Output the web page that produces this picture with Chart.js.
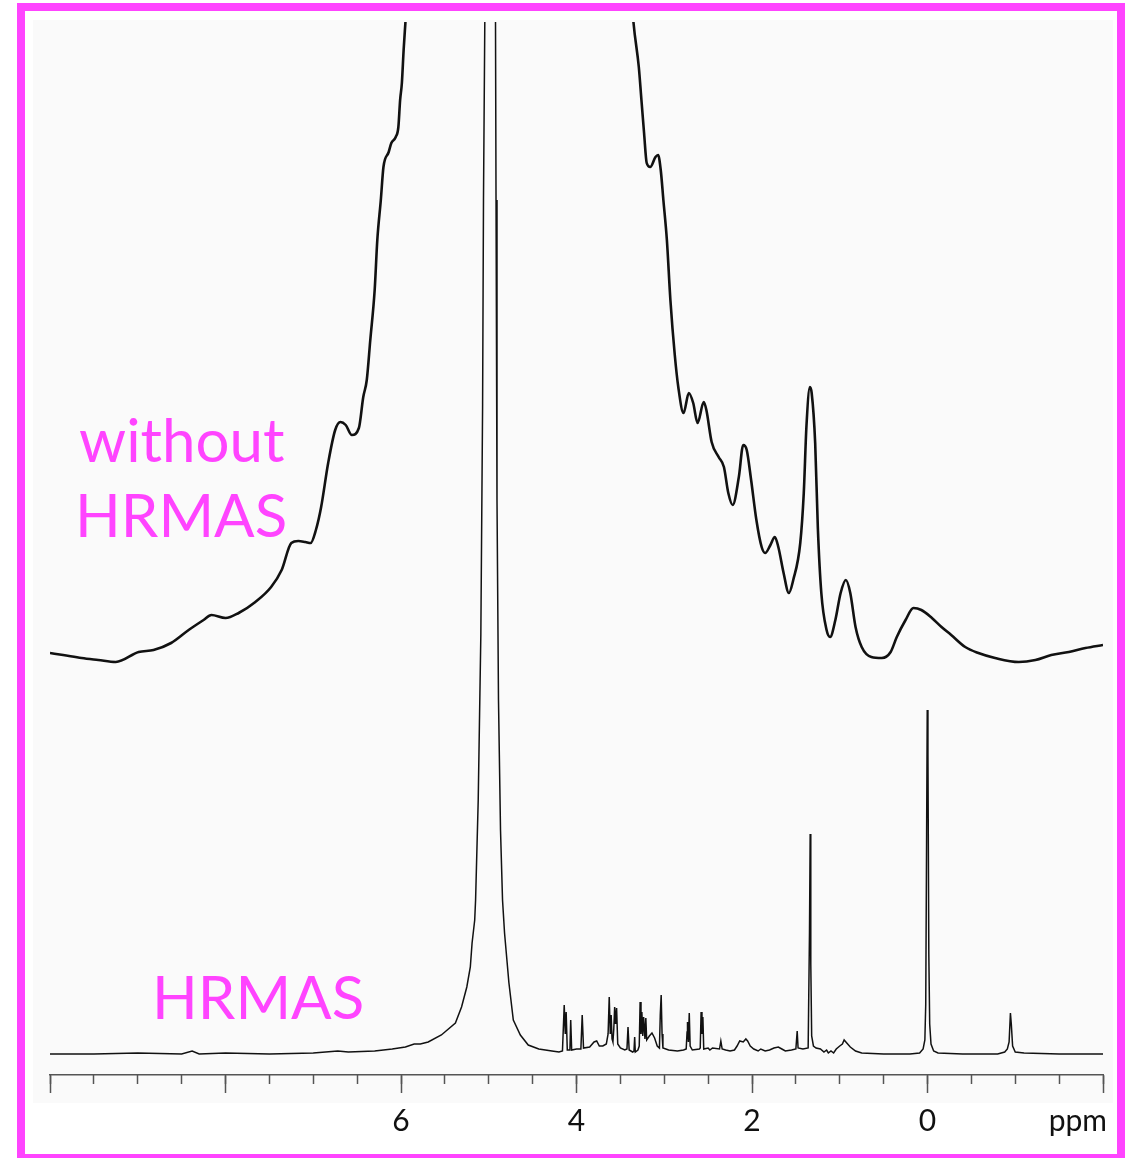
<!DOCTYPE html>
<html>
<head>
<meta charset="utf-8">
<title>1H NMR spectra: without HRMAS / HRMAS</title>
<script src="https://cdn.jsdelivr.net/npm/chart.js@4.4.1/dist/chart.umd.min.js"></script>
<style>
  html, body { margin: 0; padding: 0; width: 1135px; height: 1158px; overflow: hidden; background: #ffffff; }
  #frame { position: absolute; left: 17px; top: 3px; width: 1108px; height: 1159px; box-sizing: border-box; border: 8px solid #ff44ff; }
  #panel { position: absolute; left: 33px; top: 20px; width: 1080px; height: 1083px; background: #fafafa; }
  #chart { position: absolute; left: 0; top: 0; }
</style>
</head>
<body>
<div id="frame"></div>
<div id="panel"></div>
<canvas id="chart" width="1135" height="1158"></canvas>
<script>
// Static spectrum (no spinning): chemical shift (ppm) and intensity above its own baseline
const broadPpm = [
  10.00, 9.85, 9.64, 9.45, 9.25, 8.99, 8.82, 8.62, 8.42, 8.25,
  8.16, 8.00, 7.85, 7.66, 7.48, 7.36, 7.25, 7.17, 7.09, 7.03,
  6.97, 6.91, 6.83, 6.75, 6.69, 6.63, 6.56, 6.48, 6.43, 6.39,
  6.35, 6.30, 6.27, 6.23, 6.20, 6.14, 6.11, 6.06, 6.03, 6.01,
  5.99, 5.97, 5.95, 5.91, 5.85, 5.60, 5.20, 4.80, 4.40, 4.00,
  3.60, 3.45, 3.35, 3.29, 3.26, 3.23, 3.20, 3.16, 3.10, 3.07,
  3.04, 3.01, 2.97, 2.93, 2.88, 2.84, 2.78, 2.72, 2.67, 2.62,
  2.55, 2.52, 2.46, 2.38, 2.32, 2.27, 2.22, 2.15, 2.10, 2.06,
  2.01, 1.95, 1.89, 1.85, 1.79, 1.74, 1.70, 1.64, 1.58, 1.53,
  1.45, 1.41, 1.38, 1.34, 1.32, 1.28, 1.25, 1.21, 1.15, 1.11,
  1.05, 0.99, 0.93, 0.88, 0.82, 0.75, 0.64, 0.52, 0.42, 0.35,
  0.25, 0.16, 0.07, -0.05, -0.16, -0.27, -0.43, -0.58, -0.77, -1.04,
  -1.23, -1.41, -1.61, -1.80, -2.00
];
const broadIntensity = [
  1, -1, -4, -6, -8, 2, 4, 11, 24, 34,
  39, 36, 41, 52, 67, 84, 111, 113, 112, 111,
  124, 147, 191, 224, 232, 229, 219, 226, 257, 274,
  314, 364, 414, 454, 487, 502, 511, 517, 527, 554,
  571, 604, 631, 684, 800, 1200, 1800, 2400, 1900, 1300,
  900, 750, 631, 587, 554, 521, 491, 487, 497, 499,
  484, 454, 414, 354, 299, 267, 241, 261, 251, 231,
  252, 244, 212, 197, 187, 161, 149, 177, 209, 204,
  174, 134, 107, 101, 109, 117, 107, 81, 61, 74,
  111, 161, 227, 267, 261, 211, 127, 61, 24, 17,
  34, 61, 74, 61, 27, 7, -3, -4, 2, 17,
  34, 46, 44, 36, 27, 19, 7, 1, -4, -8,
  -6, -1, 2, 6, 9
];

// HRMAS spectrum: chemical shift (ppm) and intensity
const hrmasPpm = [
  10.00, 9.50, 9.00, 8.50, 8.38, 8.30, 8.00, 7.50, 7.00, 6.72,
  6.60, 6.30, 6.10, 5.95, 5.85, 5.78, 5.69, 5.54, 5.38, 5.31,
  5.25, 5.21, 5.19, 5.16, 5.15, 5.12, 5.09, 5.07, 5.06, 5.045,
  4.985, 4.923, 4.917, 4.906, 4.889, 4.866, 4.843, 4.82, 4.77, 4.72,
  4.64, 4.55, 4.43, 4.28, 4.20, 4.16, 4.140, 4.128, 4.118, 4.105,
  4.075, 4.066, 4.055, 4.00, 3.95, 3.935, 3.92, 3.85, 3.80, 3.77,
  3.74, 3.70, 3.66, 3.64, 3.627, 3.615, 3.605, 3.595, 3.585, 3.575,
  3.565, 3.555, 3.543, 3.53, 3.50, 3.45, 3.425, 3.413, 3.40, 3.36,
  3.345, 3.337, 3.33, 3.30, 3.285, 3.275, 3.265, 3.255, 3.245, 3.235,
  3.22, 3.21, 3.20, 3.17, 3.14, 3.11, 3.08, 3.055, 3.045, 3.035,
  3.025, 3.015, 2.95, 2.85, 2.78, 2.75, 2.74, 2.735, 2.725, 2.715,
  2.705, 2.68, 2.60, 2.59, 2.58, 2.57, 2.56, 2.55, 2.50, 2.48,
  2.45, 2.37, 2.355, 2.34, 2.30, 2.25, 2.20, 2.17, 2.14, 2.10,
  2.07, 2.05, 2.02, 1.98, 1.93, 1.90, 1.85, 1.80, 1.75, 1.70,
  1.66, 1.62, 1.55, 1.50, 1.485, 1.475, 1.42, 1.36, 1.345, 1.337,
  1.33, 1.32, 1.30, 1.27, 1.22, 1.18, 1.15, 1.13, 1.10, 1.07,
  1.04, 1.00, 0.97, 0.95, 0.92, 0.88, 0.82, 0.75, 0.50, 0.20,
  0.09, 0.05, 0.03, 0.02, 0.01, 0.003, -0.005, -0.015, -0.025, -0.04,
  -0.07, -0.12, -0.40, -0.80, -0.88, -0.91, -0.93, -0.945, -0.955, -0.97,
  -1.00, -1.10, -1.50, -2.00
];
const hrmasIntensity = [
  0, 0, 1, 0, 3, 0, 1, 0, 1, 3,
  2, 3, 5, 7, 10, 10, 12, 19, 31, 47,
  67, 87, 111, 134, 154, 254, 420, 650, 854, 1032,
  3000, 1032, 854, 554, 354, 224, 154, 121, 71, 34,
  19, 9, 5, 3, 2, 3, 49, 20, 42, 4,
  4, 34, 4, 5, 5, 39, 6, 7, 12, 13,
  8, 8, 10, 20, 57, 20, 39, 15, 12, 25,
  47, 30, 46, 10, 6, 4, 5, 27, 4, 2,
  3, 17, 2, 4, 8, 52, 20, 42, 18, 37,
  15, 36, 14, 18, 21, 16, 8, 6, 40, 59,
  20, 6, 4, 3, 4, 5, 22, 32, 12, 41,
  8, 4, 5, 6, 42, 20, 37, 5, 6, 4,
  6, 5, 13, 5, 4, 3, 4, 8, 13, 12,
  15, 13, 8, 5, 3, 5, 3, 4, 6, 7,
  5, 3, 4, 5, 23, 6, 5, 6, 120, 220,
  90, 18, 8, 6, 5, 2, 4, 1, 3, 1,
  5, 8, 10, 14, 11, 7, 3, 1, 0, 0,
  1, 5, 14, 50, 220, 344, 300, 100, 30, 10,
  3, 1, 0, 0, 2, 5, 12, 41, 30, 8,
  2, 1, 0, 0
];

// Shift axis: only these major ticks carry a number
const labeledTicks = [6, 4, 2, 0];
const axisUnit = 'ppm';

// Vertical stacking: the static spectrum sits above the HRMAS trace
const broadOffset = 400;
const yMin = -21;
const yMax = 1032;

const broadData = broadPpm.map((p, i) => ({ x: p, y: broadIntensity[i] + broadOffset }));
const hrmasData = hrmasPpm.map((p, i) => ({ x: p, y: hrmasIntensity[i] }));

const traceLabels = [
  { text: 'without', x: 79, y: 462 },
  { text: 'HRMAS', x: 75, y: 537 },
  { text: 'HRMAS', x: 152, y: 1019 }
];

const LABEL_FONT = { family: 'Lato', size: 30, lineHeight: 1 };
const TICK_PADDING = 13;
const MAJOR_TICK = 18;

const traceLabelPlugin = {
  id: 'traceLabels',
  afterDraw(chart) {
    const c = chart.ctx;
    c.save();
    c.fillStyle = '#ff44ff';
    c.font = '60px Lato';
    c.textAlign = 'left';
    c.textBaseline = 'alphabetic';
    traceLabels.forEach(l => c.fillText(l.text, l.x, l.y));

    // unit label at the right end of the shift axis, on the tick-label line
    const xs = chart.scales.x;
    c.fillStyle = '#111111';
    c.font = LABEL_FONT.size + 'px ' + LABEL_FONT.family;
    c.textAlign = 'right';
    c.textBaseline = 'middle';
    c.fillText(axisUnit, xs.right + 4, xs.top + MAJOR_TICK + TICK_PADDING + LABEL_FONT.size / 2);
    c.restore();
  }
};

function draw() {
  new Chart(document.getElementById('chart'), {
    type: 'line',
    data: {
      datasets: [
        { label: 'without HRMAS', data: broadData, xAxisID: 'x', yAxisID: 'y',
          borderColor: '#111111', borderWidth: 2.6, pointRadius: 0,
          cubicInterpolationMode: 'monotone', fill: false },
        { label: 'HRMAS', data: hrmasData, xAxisID: 'x', yAxisID: 'y',
          borderColor: '#111111', borderWidth: 1.5, pointRadius: 0, tension: 0, fill: false }
      ]
    },
    options: {
      responsive: false,
      animation: false,
      events: [],
      layout: { padding: { left: 50, right: 32, top: 22, bottom: 23 } },
      plugins: { legend: { display: false }, tooltip: { enabled: false } },
      scales: {
        x: {
          type: 'linear', position: 'bottom', min: -2, max: 10, reverse: true,
          afterFit(scale) { scale.height = 60; },
          border: { display: true, color: '#555555', width: 1.5 },
          grid: { drawOnChartArea: false, drawTicks: true, tickLength: MAJOR_TICK, tickColor: '#555555', tickWidth: 1.5 },
          ticks: {
            stepSize: 2, padding: TICK_PADDING, color: '#111111', autoSkip: false, maxRotation: 0,
            font: LABEL_FONT,
            callback: v => labeledTicks.includes(v) ? String(v) : ''
          },
          title: { display: false }
        },
        xMinor: {
          type: 'linear', position: { y: yMin }, min: -2, max: 10, reverse: true,
          border: { display: false },
          grid: { drawOnChartArea: false, drawTicks: true, tickLength: 9, tickColor: '#555555', tickWidth: 1.5 },
          ticks: { stepSize: 0.5, display: false, autoSkip: false }
        },
        y: { display: false, min: yMin, max: yMax }
      }
    },
    plugins: [traceLabelPlugin]
  });
}

if (document.fonts && document.fonts.load) {
  Promise.all([document.fonts.load('60px Lato'), document.fonts.load('30px Lato')]).then(draw, draw);
} else {
  draw();
}
</script>
</body>
</html>
